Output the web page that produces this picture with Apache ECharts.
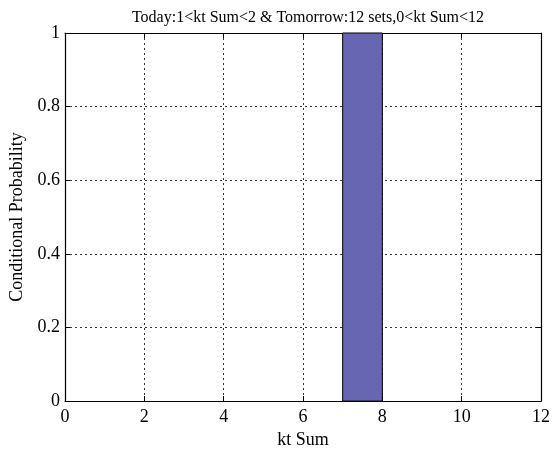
<!DOCTYPE html>
<html>
<head>
<meta charset="utf-8">
<script src="https://cdn.jsdelivr.net/npm/echarts@6/dist/echarts.min.js"></script>
<style>
html, body { margin: 0; padding: 0; background: #fff; }
#chart { width: 553px; height: 454px; }
</style>
</head>
<body>
<div id="chart"></div>
<script>
// bin edges and conditional probability per bin
let binStart = [0, 1, 2, 3, 4, 5, 6, 7, 8, 9, 10, 11];
let binEnd = [1, 2, 3, 4, 5, 6, 7, 8, 9, 10, 11, 12];
let prob = [0, 0, 0, 0, 0, 0, 0, 1, 0, 0, 0, 0];
let xTicks = [0, 2, 4, 6, 8, 10, 12];
let yTicks = [0, 0.2, 0.4, 0.6, 0.8, 1];

let font = 'Liberation Serif';
let chart = echarts.init(document.getElementById('chart'));

let barData = [];
for (let i = 0; i < prob.length; i++) {
    barData.push([binStart[i], binEnd[i], prob[i]]);
}

let axisCommon = {
    type: 'value',
    axisLine: {show: true, onZero: false, lineStyle: {color: '#000', width: 1.2}},
    axisTick: {show: true, inside: true, length: 5, lineStyle: {color: '#000'}},
};

let option = {
    animation: false,
    title: {
        text: 'Today:1<kt Sum<2 & Tomorrow:12 sets,0<kt Sum<12',
        left: 303, top: 5, textAlign: 'center',
        textStyle: {fontFamily: font, fontSize: 16, fontWeight: 'normal', color: '#000'}
    },
    grid: {left: 65, right: 12, top: 33, bottom: 46},
    xAxis: [
        Object.assign({}, axisCommon, {
            min: 0, max: 12, interval: 2, position: 'bottom',
            name: 'kt Sum', nameLocation: 'middle', nameGap: 27,
            nameTextStyle: {fontFamily: font, fontSize: 18, color: '#000'},
            axisLabel: {fontFamily: font, fontSize: 18, color: '#000', margin: 7,
                formatter: v => xTicks.indexOf(v) >= 0 ? String(v) : ''},
            splitLine: {show: true, lineStyle: {color: '#000', type: [2, 3], width: 0.8}}
        }),
        Object.assign({}, axisCommon, {
            min: 0, max: 12, interval: 2, position: 'top',
            axisLabel: {show: false}, splitLine: {show: false}
        })
    ],
    yAxis: [
        Object.assign({}, axisCommon, {
            min: 0, max: 1, interval: 0.2, position: 'left',
            name: 'Conditional Probability', nameLocation: 'middle', nameGap: 35,
            nameTextStyle: {fontFamily: font, fontSize: 18, color: '#000'},
            axisLabel: {fontFamily: font, fontSize: 18, color: '#000', margin: 5,
                formatter: v => yTicks.indexOf(+v.toFixed(1)) >= 0 ? String(+v.toFixed(1)) : ''},
            splitLine: {show: true, lineStyle: {color: '#000', type: [2, 3], width: 0.8}}
        }),
        Object.assign({}, axisCommon, {
            min: 0, max: 1, interval: 0.2, position: 'right',
            axisLabel: {show: false}, splitLine: {show: false}
        })
    ],
    series: [{
        type: 'custom',
        xAxisIndex: 0,
        yAxisIndex: 0,
        data: barData,
        renderItem: function (params, api) {
            let h = api.value(2);
            if (h <= 0) return null;
            let p0 = api.coord([api.value(0), 0]);
            let p1 = api.coord([api.value(1), h]);
            return {
                type: 'rect',
                shape: {x: p0[0], y: p1[1], width: p1[0] - p0[0], height: p0[1] - p1[1]},
                style: {fill: '#6666b3', stroke: '#000', lineWidth: 1}
            };
        },
        z: 1
    }]
};
chart.setOption(option);
</script>
</body>
</html>
